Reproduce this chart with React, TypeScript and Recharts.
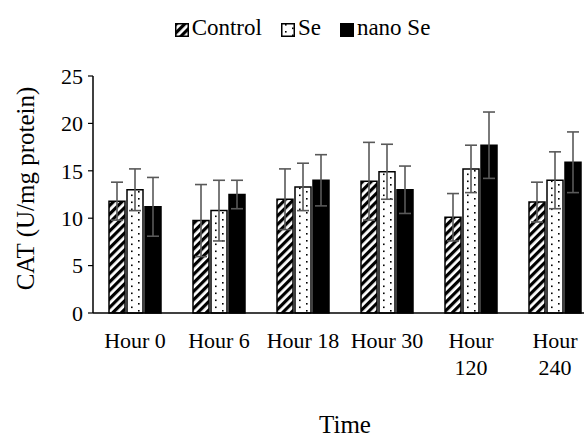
import { BarChart, Bar, XAxis, YAxis, ErrorBar, Legend } from 'recharts';

const hours = ['Hour 0', 'Hour 6', 'Hour 18', 'Hour 30', 'Hour 120', 'Hour 240'];
const control = [11.8, 9.75, 12.0, 13.9, 10.1, 11.7];
const controlErr = [2.0, 3.8, 3.2, 4.1, 2.5, 2.1];
const se = [13.0, 10.8, 13.3, 14.9, 15.2, 14.0];
const seErr = [2.2, 3.2, 2.5, 2.9, 2.5, 3.0];
const nano = [11.2, 12.5, 14.0, 13.0, 17.7, 15.9];
const nanoErr = [3.1, 1.5, 2.7, 2.5, 3.5, 3.2];
const yTicks = [0, 5, 10, 15, 20, 25];

const series = [
  { key: 'control', err: 'controlErr', name: 'Control', fill: 'url(#stripes)' },
  { key: 'se', err: 'seErr', name: 'Se', fill: 'url(#dots)' },
  { key: 'nano', err: 'nanoErr', name: 'nano Se', fill: '#000' },
];

const rows = hours.map((h, i) => ({
  hour: h,
  control: control[i],
  controlErr: controlErr[i],
  se: se[i],
  seErr: seErr[i],
  nano: nano[i],
  nanoErr: nanoErr[i],
}));

const FONT = '"Liberation Serif", "Times New Roman", serif';

// labels too long for the category get wrapped word by word, like the original
function HourTick(props: any) {
  const { x, y, payload } = props;
  const label: string = payload.value;
  const lines = label.length > 7 ? label.split(' ') : [label];
  return (
    <text x={x} y={y + 35} textAnchor="middle" fontSize={22} fontFamily={FONT} fill="#000">
      {lines.map((l, i) => (
        <tspan key={i} x={x} dy={i === 0 ? 0 : 27}>
          {l}
        </tspan>
      ))}
    </text>
  );
}

function LegendRow() {
  return (
    <div style={{ display: 'flex', justifyContent: 'center', alignItems: 'center', fontFamily: FONT, fontSize: 23, color: '#000', lineHeight: '26px' }}>
      {series.map((s, i) => (
        <div key={s.key} style={{ display: 'flex', alignItems: 'center', marginLeft: i === 0 ? 0 : 19 }}>
          <svg width={14} height={14} style={{ marginRight: 3, marginTop: 3 }}>
            <rect x={0.75} y={0.75} width={12.5} height={12.5} fill={s.fill} stroke="#000" strokeWidth={1.5} />
          </svg>
          <span>{s.name}</span>
        </div>
      ))}
    </div>
  );
}

export default function App() {
  // the plot runs past the right edge in the original, so the page margin is dropped
  // and the chart sits in a 584x437 box, clipped
  return (
    <div style={{ width: 584, height: 437, overflow: 'hidden', fontFamily: FONT, position: 'relative' }}>
      <style>{'body { margin: 0; }'}</style>
      <div style={{ position: 'absolute', left: 8, top: 8 }}>
        <BarChart
          width={589}
          height={429}
          data={rows}
          margin={{ top: 68, right: 0, bottom: 0, left: 0 }}
          barSize={16}
          barGap={2}
        >
          <defs>
            <pattern id="stripes" patternUnits="userSpaceOnUse" width={6} height={6} patternTransform="rotate(45)">
              <rect width={6} height={6} fill="#fff" />
              <rect width={3.2} height={6} fill="#000" />
            </pattern>
            <pattern id="dots" patternUnits="userSpaceOnUse" width={14} height={7}>
              <rect width={14} height={7} fill="#fff" />
              <rect x={4} y={1} width={1.6} height={1.6} fill="#000" />
              <rect x={11} y={4.5} width={1.6} height={1.6} fill="#000" />
            </pattern>
          </defs>
          <XAxis
            dataKey="hour"
            height={124}
            axisLine={{ stroke: '#000', strokeWidth: 1.5 }}
            tickLine={false}
            tickSize={0}
            tickMargin={0}
            interval={0}
            tick={<HourTick />}
            label={{
              content: (p: any) => {
                const vb = p.viewBox;
                return (
                  <text x={vb.x + vb.width / 2} y={425} textAnchor="middle" fontSize={25} fontFamily={FONT} fill="#000">
                    Time
                  </text>
                );
              },
            }}
          />
          <YAxis
            width={85}
            domain={[0, 25]}
            ticks={yTicks}
            interval={0}
            axisLine={{ stroke: '#000', strokeWidth: 1.5 }}
            tickLine={{ stroke: '#000', strokeWidth: 1.2 }}
            tickSize={5}
            tickMargin={5}
            tick={{ fontSize: 22, fontFamily: FONT, fill: '#000' }}
            label={{
              content: (p: any) => {
                const vb = p.viewBox;
                const cy = vb.y + vb.height / 2 - 6;
                return (
                  <text x={26} y={cy} transform={`rotate(-90 26 ${cy})`} textAnchor="middle" fontSize={25} fontFamily={FONT} fill="#000">
                    CAT (U/mg protein)
                  </text>
                );
              },
            }}
          />
          <Legend
            layout="horizontal"
            verticalAlign="middle"
            align="center"
            wrapperStyle={{ top: 7, left: 0, width: 589 }}
            content={() => <LegendRow />}
          />
          {series.map((s) => (
            <Bar key={s.key} dataKey={s.key} name={s.name} fill={s.fill} stroke="#000" strokeWidth={1.5} isAnimationActive={false}>
              <ErrorBar dataKey={s.err} width={6} stroke="#595959" strokeWidth={1.6} direction="y" isAnimationActive={false} />
            </Bar>
          ))}
        </BarChart>
      </div>
    </div>
  );
}
